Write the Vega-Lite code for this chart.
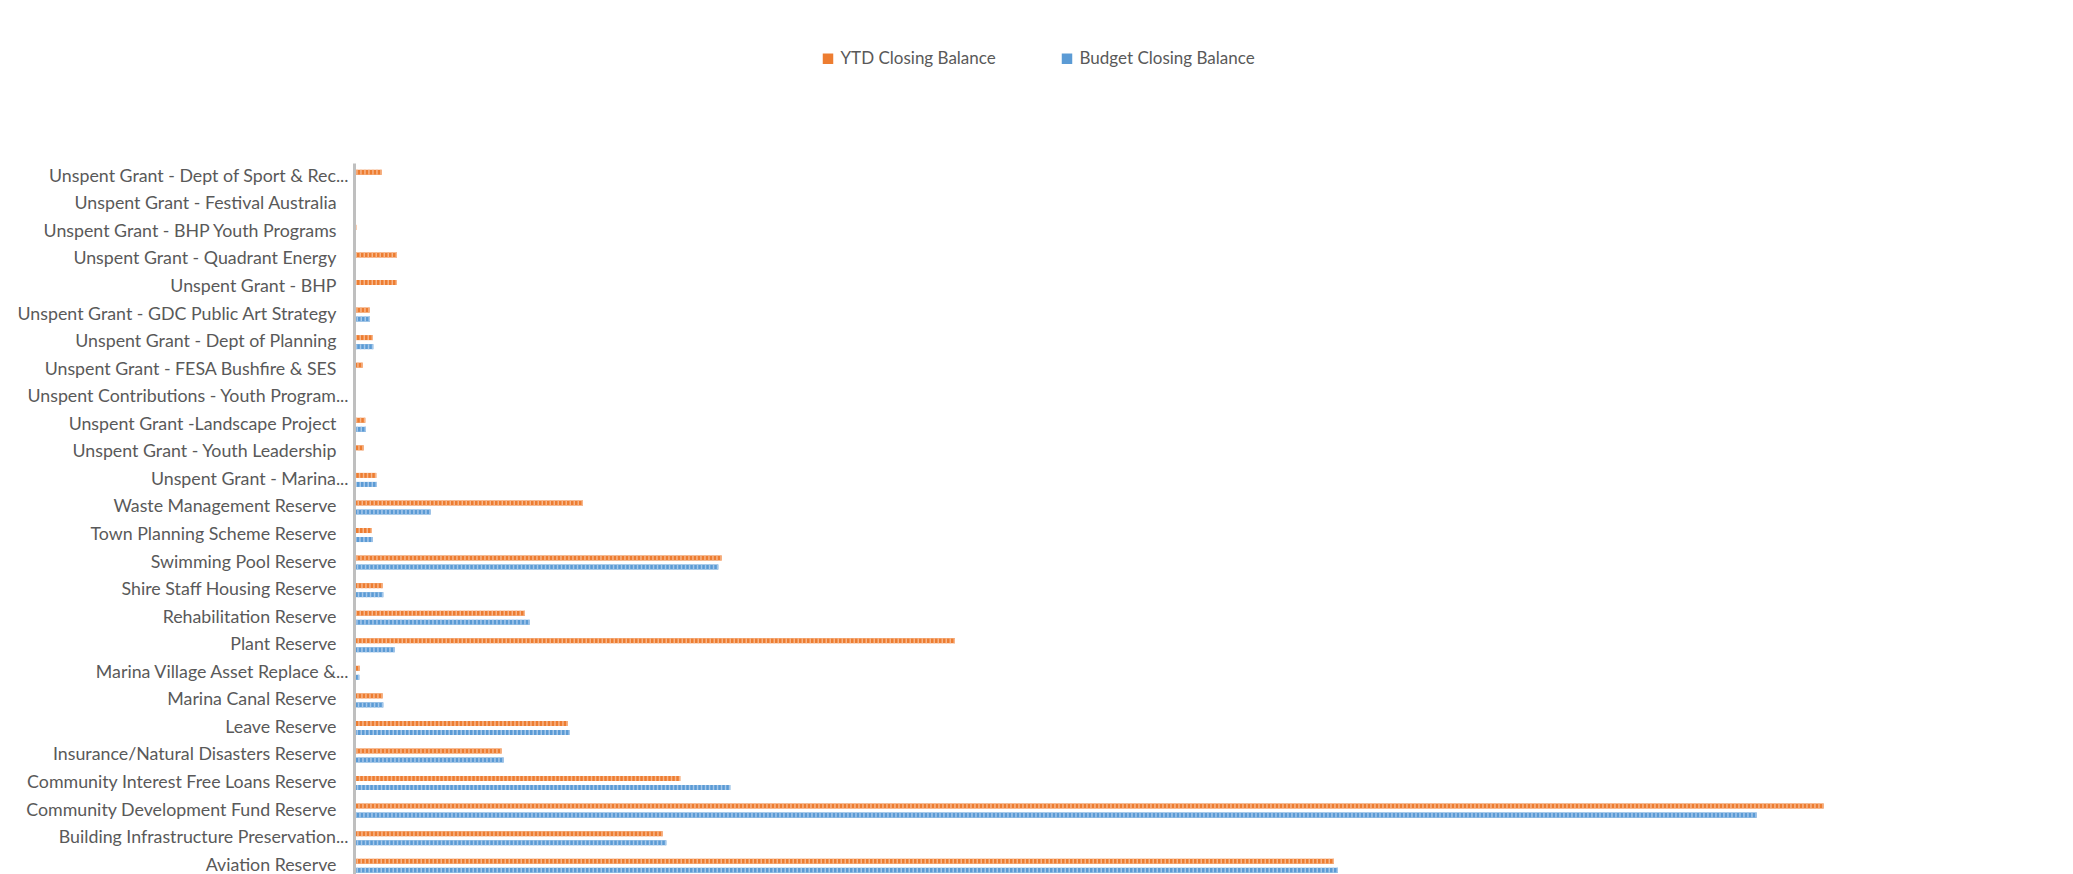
{
  "$schema": "https://vega.github.io/schema/vega-lite/v6.json",
  "width": 1700,
  "height": 711,
  "autosize": {"type": "none"},
  "padding": {"left": 356, "top": 163, "right": 17, "bottom": 0},
  "background": "white",
  "config": {"view": {"stroke": null}, "font": "Lato"},
  "data": {"values": [
    {"c": "Unspent Grant - Dept of Sport & Rec...", "s": "YTD Closing Balance", "v": 128500},
    {"c": "Unspent Grant - Dept of Sport & Rec...", "s": "Budget Closing Balance", "v": 0},
    {"c": "Unspent Grant - Festival Australia", "s": "YTD Closing Balance", "v": 0},
    {"c": "Unspent Grant - Festival Australia", "s": "Budget Closing Balance", "v": 0},
    {"c": "Unspent Grant - BHP Youth Programs", "s": "YTD Closing Balance", "v": 1500},
    {"c": "Unspent Grant - BHP Youth Programs", "s": "Budget Closing Balance", "v": 0},
    {"c": "Unspent Grant - Quadrant Energy", "s": "YTD Closing Balance", "v": 205000},
    {"c": "Unspent Grant - Quadrant Energy", "s": "Budget Closing Balance", "v": 0},
    {"c": "Unspent Grant - BHP", "s": "YTD Closing Balance", "v": 205000},
    {"c": "Unspent Grant - BHP", "s": "Budget Closing Balance", "v": 0},
    {"c": "Unspent Grant  - GDC Public Art Strategy", "s": "YTD Closing Balance", "v": 68500},
    {"c": "Unspent Grant  - GDC Public Art Strategy", "s": "Budget Closing Balance", "v": 70000},
    {"c": "Unspent Grant - Dept of Planning", "s": "YTD Closing Balance", "v": 85000},
    {"c": "Unspent Grant - Dept of Planning", "s": "Budget Closing Balance", "v": 86500},
    {"c": "Unspent Grant - FESA Bushfire & SES", "s": "YTD Closing Balance", "v": 33500},
    {"c": "Unspent Grant - FESA Bushfire & SES", "s": "Budget Closing Balance", "v": 0},
    {"c": "Unspent Contributions - Youth Program...", "s": "YTD Closing Balance", "v": 0},
    {"c": "Unspent Contributions - Youth Program...", "s": "Budget Closing Balance", "v": 0},
    {"c": "Unspent Grant -Landscape Project", "s": "YTD Closing Balance", "v": 46500},
    {"c": "Unspent Grant -Landscape Project", "s": "Budget Closing Balance", "v": 50000},
    {"c": "Unspent Grant - Youth Leadership", "s": "YTD Closing Balance", "v": 38500},
    {"c": "Unspent Grant - Youth Leadership", "s": "Budget Closing Balance", "v": 0},
    {"c": "Unspent Grant - Marina...", "s": "YTD Closing Balance", "v": 101500},
    {"c": "Unspent Grant - Marina...", "s": "Budget Closing Balance", "v": 105000},
    {"c": "Waste Management Reserve", "s": "YTD Closing Balance", "v": 1135000},
    {"c": "Waste Management Reserve", "s": "Budget Closing Balance", "v": 373500},
    {"c": "Town Planning Scheme Reserve", "s": "YTD Closing Balance", "v": 80000},
    {"c": "Town Planning Scheme Reserve", "s": "Budget Closing Balance", "v": 83500},
    {"c": "Swimming Pool Reserve", "s": "YTD Closing Balance", "v": 1828500},
    {"c": "Swimming Pool Reserve", "s": "Budget Closing Balance", "v": 1811500},
    {"c": "Shire Staff Housing Reserve", "s": "YTD Closing Balance", "v": 133500},
    {"c": "Shire Staff Housing Reserve", "s": "Budget Closing Balance", "v": 136500},
    {"c": "Rehabilitation Reserve", "s": "YTD Closing Balance", "v": 845000},
    {"c": "Rehabilitation Reserve", "s": "Budget Closing Balance", "v": 868500},
    {"c": "Plant Reserve", "s": "YTD Closing Balance", "v": 2995000},
    {"c": "Plant Reserve", "s": "Budget Closing Balance", "v": 193500},
    {"c": "Marina Village Asset Replace &...", "s": "YTD Closing Balance", "v": 18500},
    {"c": "Marina Village Asset Replace &...", "s": "Budget Closing Balance", "v": 16500},
    {"c": "Marina Canal Reserve", "s": "YTD Closing Balance", "v": 133500},
    {"c": "Marina Canal Reserve", "s": "Budget Closing Balance", "v": 136500},
    {"c": "Leave Reserve", "s": "YTD Closing Balance", "v": 1058500},
    {"c": "Leave Reserve", "s": "Budget Closing Balance", "v": 1070000},
    {"c": "Insurance/Natural Disasters Reserve", "s": "YTD Closing Balance", "v": 728500},
    {"c": "Insurance/Natural Disasters Reserve", "s": "Budget Closing Balance", "v": 738500},
    {"c": "Community Interest Free Loans Reserve", "s": "YTD Closing Balance", "v": 1621500},
    {"c": "Community Interest Free Loans Reserve", "s": "Budget Closing Balance", "v": 1871500},
    {"c": "Community Development Fund Reserve", "s": "YTD Closing Balance", "v": 7338500},
    {"c": "Community Development Fund Reserve", "s": "Budget Closing Balance", "v": 7003500},
    {"c": "Building Infrastructure Preservation...", "s": "YTD Closing Balance", "v": 1533500},
    {"c": "Building Infrastructure Preservation...", "s": "Budget Closing Balance", "v": 1551500},
    {"c": "Aviation Reserve", "s": "YTD Closing Balance", "v": 4890000},
    {"c": "Aviation Reserve", "s": "Budget Closing Balance", "v": 4910000}
  ]},
  "encoding": {
    "y": {
      "field": "c", "type": "nominal", "sort": null,
      "scale": {"range": [0, 716.5], "paddingInner": 0.49, "paddingOuter": 0.245},
      "axis": {
        "title": null, "ticks": false, "grid": false, "domain": true,
        "domainColor": "#BFBFBF", "domainWidth": 3, "offset": 2,
        "labelFont": "Lato", "labelFontSize": 17.8, "labelColor": "#595959", "labelLimit": 0,
        "labelPadding": {"condition": {"test": "slice(datum.value, -3) === '...'", "value": 6}, "value": 18}
      }
    },
    "yOffset": {
      "field": "s", "type": "nominal",
      "sort": ["YTD Closing Balance", "Budget Closing Balance"],
      "scale": {"paddingInner": 0.44, "paddingOuter": 0}
    },
    "x": {
      "field": "v", "type": "quantitative",
      "scale": {"domain": [0, 8500000], "nice": false, "zero": true},
      "axis": null
    }
  },
  "layer": [
    {
      "mark": {"type": "bar"},
      "encoding": {
        "color": {
          "field": "s", "type": "nominal",
          "scale": {"domain": ["YTD Closing Balance", "Budget Closing Balance"], "range": ["#ED7D31", "#5B9BD5"]},
          "legend": {
            "title": null, "orient": "none", "direction": "horizontal",
            "legendX": 463.5, "legendY": -113, "padding": 0,
            "symbolType": "square", "symbolSize": 110, "symbolStrokeWidth": 0,
            "labelFont": "Lato", "labelFontSize": 17, "labelColor": "#595959", "labelLimit": 0,
            "labelOffset": 4, "columnPadding": 62
          }
        }
      }
    },
    {
      "mark": {"type": "rule", "strokeWidth": 5, "strokeDash": [1.5, 2.5]},
      "encoding": {
        "x2": {"datum": 0},
        "stroke": {
          "field": "s", "type": "nominal",
          "scale": {"domain": ["YTD Closing Balance", "Budget Closing Balance"], "range": ["#F7B68A", "#A6C8EA"]},
          "legend": null
        }
      }
    }
  ]
}
